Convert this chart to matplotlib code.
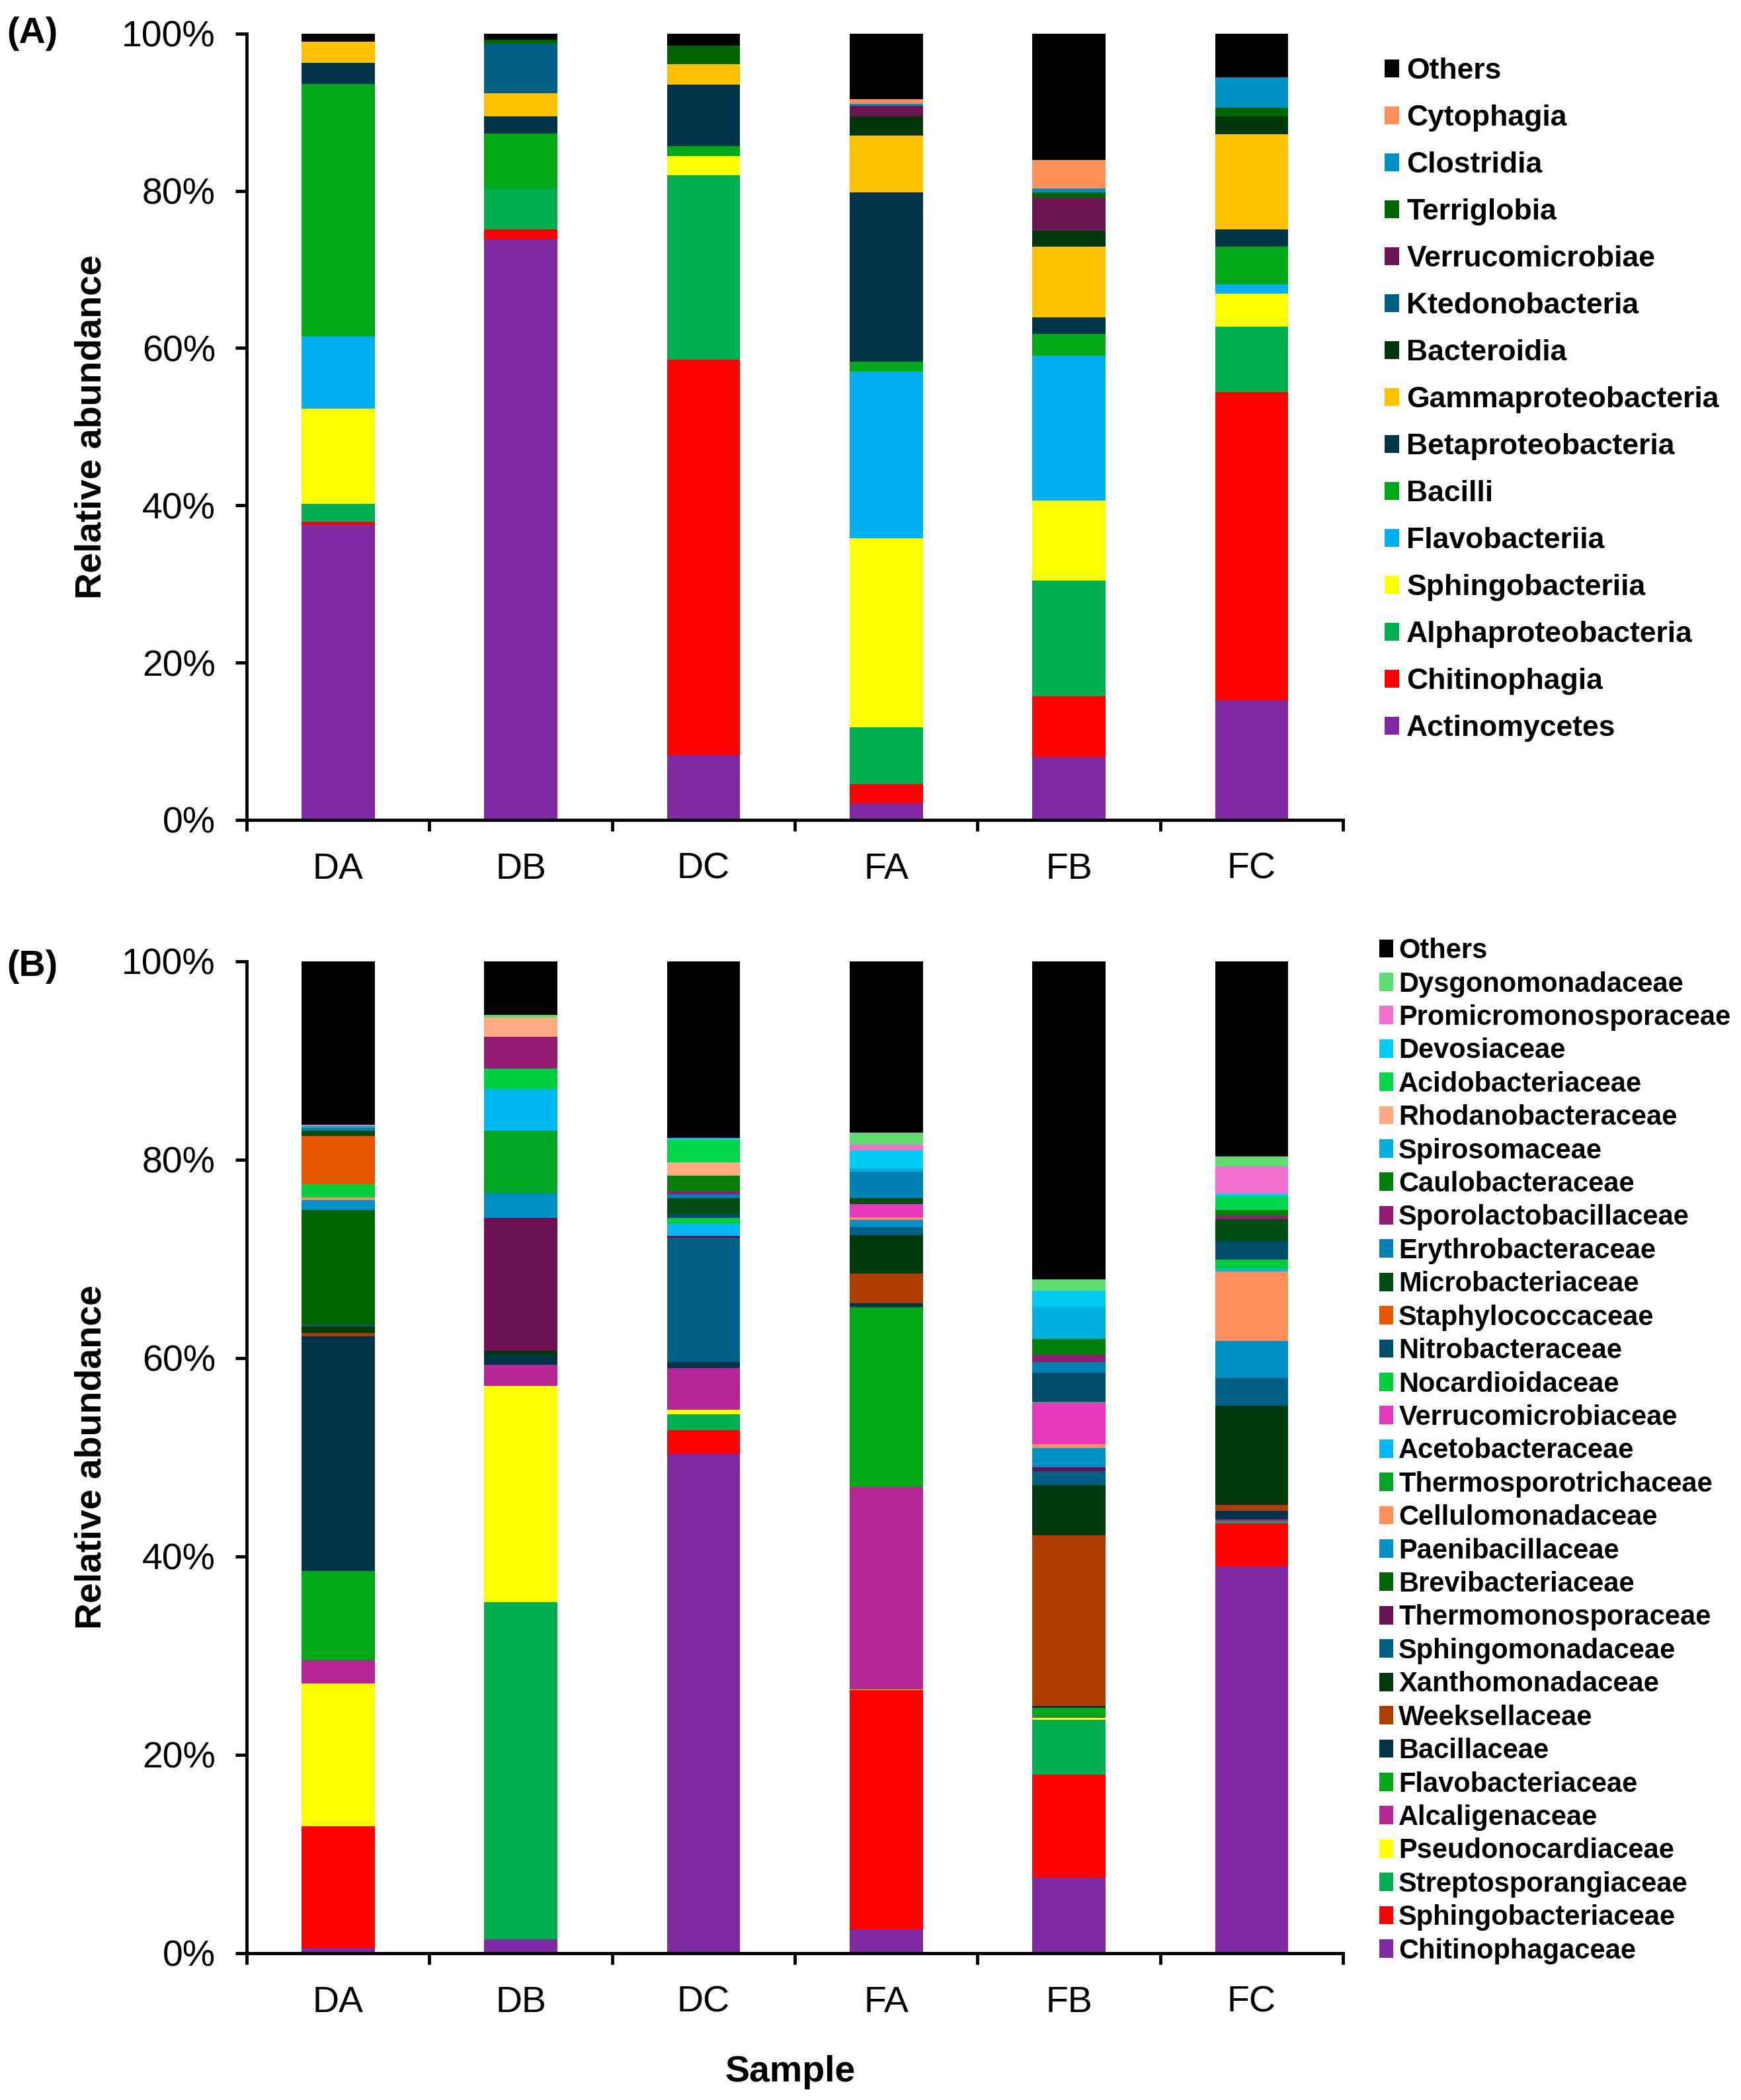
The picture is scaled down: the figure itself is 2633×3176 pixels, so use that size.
import matplotlib
matplotlib.use("Agg")
import matplotlib.pyplot as plt
import numpy as np
from matplotlib.patches import Patch

plt.rcParams['font.family'] = ['Liberation Sans', 'DejaVu Sans']

samples = ['DA', 'DB', 'DC', 'FA', 'FB', 'FC']

# ---- panel A: class level (bottom -> top) ----
class_names = ['Actinomycetes', 'Chitinophagia', 'Alphaproteobacteria', 'Sphingobacteriia',
               'Flavobacteriia', 'Bacilli', 'Betaproteobacteria', 'Gammaproteobacteria',
               'Bacteroidia', 'Ktedonobacteria', 'Verrucomicrobiae', 'Terriglobia',
               'Clostridia', 'Cytophagia', 'Others']
actinomycetes = [37.5, 73.8, 8.2, 2.1, 8.0, 15.2]
chitinophagia = [0.4, 1.3, 50.3, 2.4, 7.7, 39.2]
alphaproteobacteria = [2.3, 5.2, 23.5, 7.3, 14.7, 8.3]
sphingobacteriia = [12.1, 0.0, 2.4, 24.0, 10.2, 4.2]
flavobacteriia = [9.2, 0.0, 0.0, 21.2, 18.4, 1.2]
bacilli = [32.1, 7.0, 1.3, 1.3, 2.8, 4.8]
betaproteobacteria = [2.7, 2.2, 7.8, 21.5, 2.1, 2.2]
gammaproteobacteria = [2.7, 2.9, 2.6, 7.2, 9.0, 12.1]
bacteroidia = [0.0, 0.0, 0.0, 2.5, 2.0, 2.3]
ktedonobacteria = [0.0, 6.3, 0.0, 0.0, 0.0, 0.0]
verrucomicrobiae = [0.0, 0.0, 0.0, 1.3, 4.2, 0.0]
terriglobia = [0.0, 0.5, 2.4, 0.0, 0.7, 1.1]
clostridia = [0.0, 0.0, 0.0, 0.3, 0.5, 3.8]
cytophagia = [0.0, 0.0, 0.0, 0.6, 3.6, 0.0]
others_a = [1.0, 0.8, 1.5, 8.3, 16.1, 5.6]
class_values = [actinomycetes, chitinophagia, alphaproteobacteria, sphingobacteriia,
                flavobacteriia, bacilli, betaproteobacteria, gammaproteobacteria,
                bacteroidia, ktedonobacteria, verrucomicrobiae, terriglobia,
                clostridia, cytophagia, others_a]
class_colors = ['#7F2AA3', '#FF0000', '#00B050', '#FFFF00', '#00B0F0', '#00A818',
                '#003549', '#FFC000', '#00380C', '#005F85', '#6C1454', '#006400',
                '#0090C5', '#FF905A', '#000000']

# ---- panel B: family level (bottom -> top) ----
family_names = ['Chitinophagaceae', 'Sphingobacteriaceae', 'Streptosporangiaceae',
                'Pseudonocardiaceae', 'Alcaligenaceae', 'Flavobacteriaceae', 'Bacillaceae',
                'Weeksellaceae', 'Xanthomonadaceae', 'Sphingomonadaceae',
                'Thermomonosporaceae', 'Brevibacteriaceae', 'Paenibacillaceae',
                'Cellulomonadaceae', 'Thermosporotrichaceae', 'Acetobacteraceae',
                'Verrucomicrobiaceae', 'Nocardioidaceae', 'Nitrobacteraceae',
                'Staphylococcaceae', 'Microbacteriaceae', 'Erythrobacteraceae',
                'Sporolactobacillaceae', 'Caulobacteraceae', 'Spirosomaceae',
                'Rhodanobacteraceae', 'Acidobacteriaceae', 'Devosiaceae',
                'Promicromonosporaceae', 'Dysgonomonadaceae', 'Others']
chitinophagaceae = [0.5, 1.4, 50.3, 2.4, 7.6, 39.0]
sphingobacteriaceae = [12.3, 0.0, 2.4, 24.1, 10.4, 4.3]
streptosporangiaceae = [0.0, 34.0, 1.6, 0.0, 5.5, 0.2]
pseudonocardiaceae = [14.4, 21.8, 0.5, 0.1, 0.2, 0.0]
alcaligenaceae = [2.3, 2.1, 4.2, 20.4, 0.1, 0.2]
flavobacteriaceae = [9.0, 0.0, 0.0, 18.1, 0.9, 0.0]
bacillaceae = [23.7, 1.0, 0.6, 0.4, 0.2, 0.9]
weeksellaceae = [0.3, 0.0, 0.0, 3.0, 17.2, 0.6]
xanthomonadaceae = [0.7, 0.4, 0.0, 3.9, 5.1, 10.0]
sphingomonadaceae = [0.1, 0.0, 12.5, 0.8, 1.4, 2.8]
thermomonosporaceae = [0.0, 13.4, 0.2, 0.0, 0.4, 0.0]
brevibacteriaceae = [11.6, 0.0, 0.0, 0.0, 0.0, 0.0]
paenibacillaceae = [1.0, 2.5, 0.0, 0.7, 1.9, 3.7]
cellulomonadaceae = [0.3, 0.0, 0.0, 0.3, 0.4, 7.0]
thermosporotrichaceae = [0.0, 6.3, 0.0, 0.0, 0.0, 0.0]
acetobacteraceae = [0.0, 4.2, 1.2, 0.0, 0.0, 0.3]
verrucomicrobiaceae = [0.0, 0.0, 0.0, 1.3, 4.2, 0.0]
nocardioidaceae = [1.3, 2.1, 0.6, 0.0, 0.1, 0.9]
nitrobacteraceae = [0.0, 0.0, 0.4, 0.0, 2.9, 1.9]
staphylococcaceae = [4.9, 0.0, 0.0, 0.0, 0.0, 0.0]
microbacteriaceae = [0.5, 0.0, 1.6, 0.6, 0.0, 2.2]
erythrobacteraceae = [0.2, 0.0, 0.4, 2.7, 1.1, 0.0]
sporolactobacillaceae = [0.0, 3.2, 0.3, 0.0, 0.7, 0.3]
caulobacteraceae = [0.1, 0.0, 1.6, 0.0, 1.6, 0.6]
spirosomaceae = [0.2, 0.0, 0.0, 0.3, 3.3, 0.0]
rhodanobacteraceae = [0.0, 1.9, 1.3, 0.0, 0.0, 0.0]
acidobacteriaceae = [0.0, 0.0, 2.3, 0.0, 0.0, 1.4]
devosiaceae = [0.0, 0.0, 0.2, 1.8, 1.6, 0.3]
promicromonosporaceae = [0.1, 0.0, 0.0, 0.6, 0.0, 2.7]
dysgonomonadaceae = [0.0, 0.3, 0.0, 1.2, 1.1, 1.0]
others_b = [16.5, 5.4, 17.8, 17.3, 32.1, 19.7]
family_values = [chitinophagaceae, sphingobacteriaceae, streptosporangiaceae,
                 pseudonocardiaceae, alcaligenaceae, flavobacteriaceae, bacillaceae,
                 weeksellaceae, xanthomonadaceae, sphingomonadaceae, thermomonosporaceae,
                 brevibacteriaceae, paenibacillaceae, cellulomonadaceae,
                 thermosporotrichaceae, acetobacteraceae, verrucomicrobiaceae,
                 nocardioidaceae, nitrobacteraceae, staphylococcaceae, microbacteriaceae,
                 erythrobacteraceae, sporolactobacillaceae, caulobacteraceae,
                 spirosomaceae, rhodanobacteraceae, acidobacteriaceae, devosiaceae,
                 promicromonosporaceae, dysgonomonadaceae, others_b]
family_colors = ['#7F2AA3', '#FF0000', '#00B050', '#FFFF00', '#B72696', '#00A818',
                 '#003549', '#AE3C00', '#003A0A', '#005F85', '#6B1052', '#006400',
                 '#008FC4', '#FF8F5A', '#00A623', '#00B9F2', '#E838BE', '#00CE3C',
                 '#004D6B', '#E85500', '#004D14', '#0080B0', '#951A73', '#00800A',
                 '#00B0E0', '#FFAA80', '#00D64A', '#00CCF5', '#F270D0', '#60DD70',
                 '#000000']


def stacked(ax, values, colors):
    x = np.arange(len(samples))
    bottom = np.zeros(len(samples))
    for vals, col in zip(values, colors):
        vals = np.array(vals)
        ax.bar(x, vals, width=0.4, bottom=bottom, color=col, linewidth=0)
        bottom += vals
    ax.set_xlim(-0.5, len(samples) - 0.5)
    ax.set_ylim(0, 100)
    ax.set_yticks(np.arange(0, 101, 20))
    ax.set_yticklabels([f'{v}%' for v in range(0, 101, 20)])
    ax.set_xticks(np.arange(-0.5, len(samples), 1))
    ax.set_xticklabels([])
    ax.set_xticks(x, minor=True)
    ax.set_xticklabels(samples, minor=True)
    ax.tick_params(axis='x', which='major', direction='out', length=12, width=3.5)
    ax.tick_params(axis='x', which='minor', length=0, pad=35, labelsize=40)
    ax.tick_params(axis='y', direction='out', length=12, width=3.5, pad=22, labelsize=40)
    for s in ['top', 'right']:
        ax.spines[s].set_visible(False)
    for s in ['left', 'bottom']:
        ax.spines[s].set_linewidth(3.5)
    ax.set_ylabel('Relative abundance', fontsize=40, fontweight='bold')
    ax.yaxis.label.set_va('center')
    ax.yaxis.set_label_coords(-0.1417, 0.5)


fig = plt.figure(figsize=(26.33, 31.76), dpi=100)
ax_a = fig.add_axes([0.1417, 0.6096, 0.6297, 0.3744])
ax_b = fig.add_axes([0.1417, 0.0699, 0.6297, 0.4723])

stacked(ax_a, class_values, class_colors)
stacked(ax_b, family_values, family_colors)

ax_b.set_xlabel('Sample', fontsize=40, fontweight='bold')
ax_b.xaxis.label.set_va('center')
ax_b.xaxis.set_label_coords(0.496, -0.120)

fig.text(0.0038, 0.984, '(A)', fontsize=40, fontweight='bold', va='center', ha='left')
fig.text(0.0038, 0.5397, '(B)', fontsize=40, fontweight='bold', va='center', ha='left')

handles_a = [Patch(facecolor=c, linewidth=0) for c in class_colors][::-1]
leg_a = fig.legend(handles_a, class_names[::-1], loc='upper left',
                   bbox_to_anchor=(0.7953, 0.9725), frameon=False,
                   prop={'size': 32, 'weight': 'bold'}, labelspacing=0.675,
                   handlelength=0.5, handleheight=0.55, handletextpad=0.25,
                   borderpad=0, borderaxespad=0)

handles_b = [Patch(facecolor=c, linewidth=0) for c in family_colors][::-1]
leg_b = fig.legend(handles_b, family_names[::-1], loc='upper left',
                   bbox_to_anchor=(0.7923, 0.5535), frameon=False,
                   prop={'size': 30, 'weight': 'bold'}, labelspacing=0.25,
                   handlelength=0.5, handleheight=0.65, handletextpad=0.2,
                   borderpad=0, borderaxespad=0)

fig.savefig('out.png', dpi=100)
plt.close(fig)
